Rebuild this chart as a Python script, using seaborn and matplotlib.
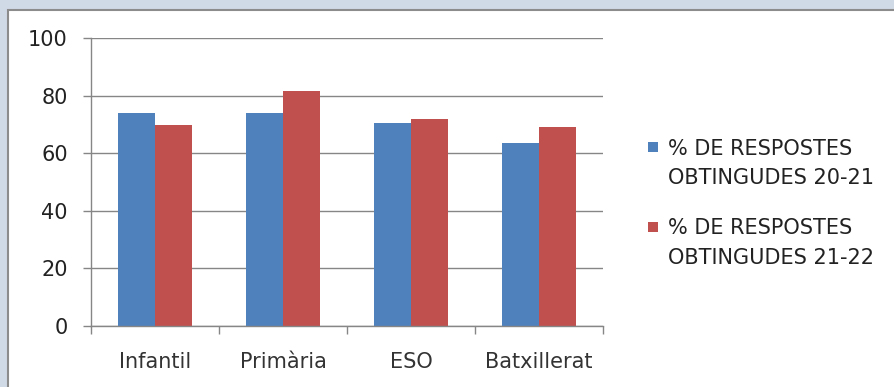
import numpy as np
import pandas as pd
import matplotlib
matplotlib.use("Agg")
import matplotlib.pyplot as plt
import seaborn as sns
from matplotlib.patches import Rectangle

# ---- data ----
categories = ["Infantil", "Primària", "ESO", "Batxillerat"]
series_names = ["% DE RESPOSTES\nOBTINGUDES 20-21", "% DE RESPOSTES\nOBTINGUDES 21-22"]
values_2021 = [74.0, 74.0, 70.5, 63.6]
values_2122 = [69.8, 81.7, 72.0, 69.1]
y_ticks = [0, 20, 40, 60, 80, 100]
colors = ["#4F81BD", "#C0504D"]

sns.set_theme(style="white")
plt.rcParams['font.family'] = ['DejaVu Sans']

df = pd.DataFrame({
    "Nivell": categories * 2,
    "Serie": [series_names[0]] * len(categories) + [series_names[1]] * len(categories),
    "Valor": values_2021 + values_2122,
})

W, H = 894, 387
fig = plt.figure(figsize=(W / 100, H / 100), dpi=100)
fig.patch.set_facecolor('#D0D9E6')
fig.patches.append(Rectangle((8 / W, -0.01), 1 - 8 / W + 0.01, 1 - 10 / H + 0.01,
                             transform=fig.transFigure, facecolor='white',
                             edgecolor='#8C8C8C', lw=1.5, zorder=-10))

ax = fig.add_axes([91 / W, (H - 326) / H, 512 / W, 288 / H])
ax.set_zorder(5)
ax.set_facecolor('white')

sns.barplot(data=df, x="Nivell", y="Valor", hue="Serie", hue_order=series_names,
            order=categories, palette=dict(zip(series_names, colors)),
            width=0.58, saturation=1, legend=False, errorbar=None,
            linewidth=0, ax=ax)

gray = '#868686'
ax.set_ylim(0, 100)
ax.set_xlim(-0.5, len(categories) - 0.5)
ax.set_yticks(y_ticks)
ax.set_xlabel("")
ax.set_ylabel("")
ax.yaxis.grid(True, color=gray, lw=1)
ax.xaxis.grid(False)
ax.set_axisbelow(True)
for s in ["top", "right"]:
    ax.spines[s].set_visible(False)
for s in ["left", "bottom"]:
    ax.spines[s].set_color(gray)
    ax.spines[s].set_linewidth(1)

ax.tick_params(axis='y', which='major', length=5.8, width=1, color=gray,
               labelsize=15, pad=11, labelcolor='#222222', left=True)
ax.set_xticks(np.arange(len(categories) + 1) - 0.5, minor=True)
ax.tick_params(axis='x', which='minor', length=5.8, width=1, color=gray,
               direction='out', bottom=True)
ax.tick_params(axis='x', which='major', length=0, labelsize=15, pad=19,
               labelcolor='#333333')

# ---- legend ----
sq = 10
legend_rows = [(155, 184), (234.5, 264)]
for name, col, (b1, b2) in zip(series_names, colors, legend_rows):
    lines = name.split("\n")
    cy = b1 - 8
    fig.patches.append(Rectangle((648 / W, 1 - (cy + sq / 2) / H), sq / W, sq / H,
                                 transform=fig.transFigure, facecolor=col,
                                 edgecolor='none', zorder=3))
    fig.text(668 / W, 1 - b1 / H, lines[0], fontsize=15, color='#222222', va='baseline')
    fig.text(668 / W, 1 - b2 / H, lines[1], fontsize=15, color='#222222', va='baseline')

fig.savefig("out.png", dpi=100, facecolor=fig.get_facecolor())
